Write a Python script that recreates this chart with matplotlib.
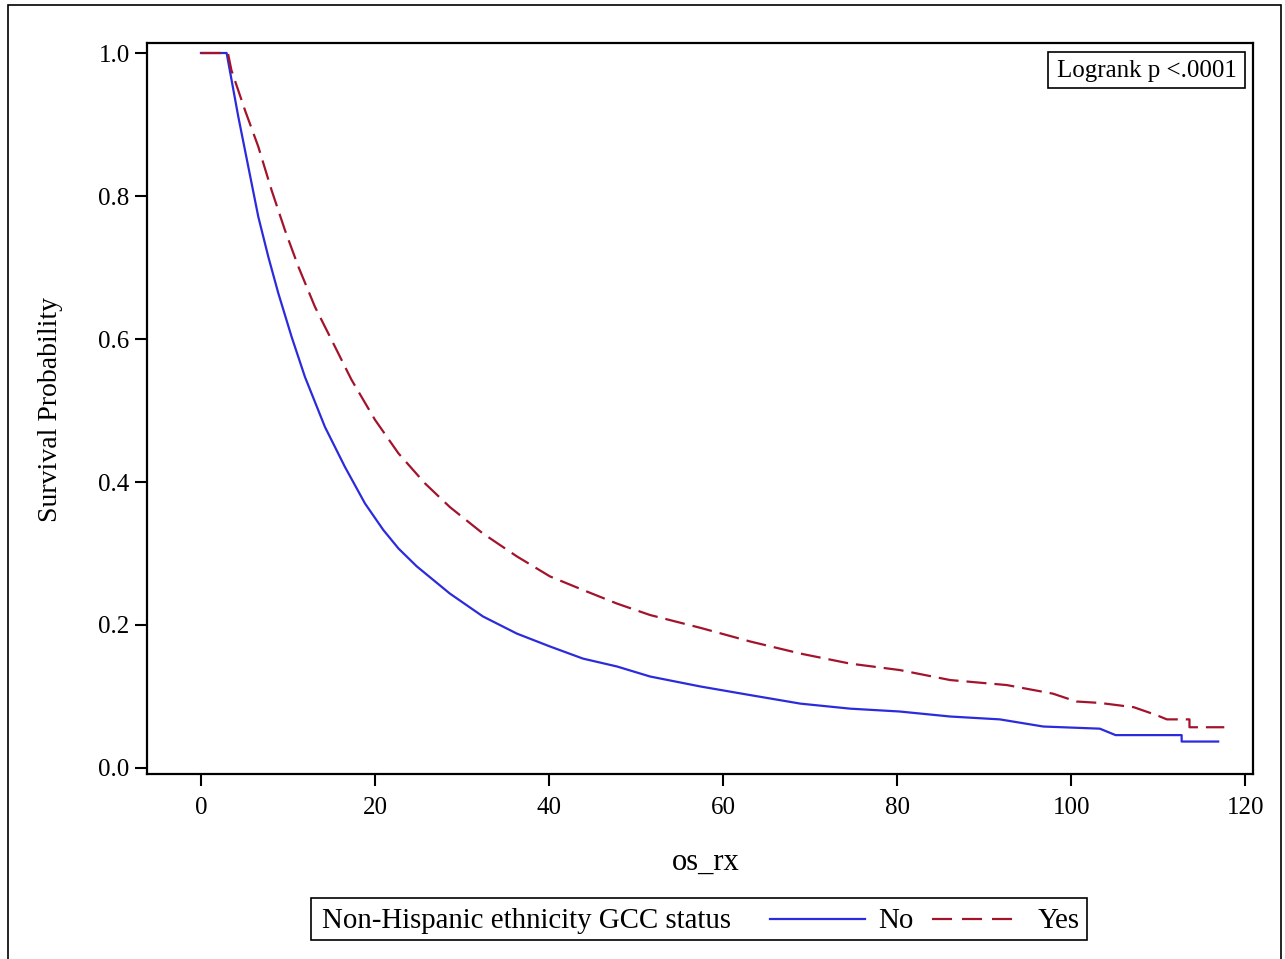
import matplotlib
matplotlib.use("Agg")
import matplotlib.pyplot as plt
from matplotlib.patches import Rectangle
from matplotlib.lines import Line2D

# ---- data ----
times_no = [0, 2.95, 4.29, 5.44, 6.59, 7.74, 8.89, 10.42, 11.95, 14.25, 16.55, 18.85,
            20.95, 22.7, 24.8, 28.6, 32.4, 36.3, 40.1, 43.9, 47.8, 51.6, 57.4, 63.1,
            68.9, 74.6, 80.3, 86.1, 91.8, 96.8, 103.3, 105.1, 112.7, 112.7, 116.9]
surv_no = [1.0, 1.0, 0.911, 0.841, 0.771, 0.715, 0.664, 0.603, 0.547, 0.477, 0.421, 0.370,
           0.333, 0.307, 0.282, 0.244, 0.212, 0.188, 0.170, 0.153, 0.142, 0.128, 0.114, 0.102,
           0.090, 0.083, 0.079, 0.072, 0.068, 0.058, 0.055, 0.046, 0.046, 0.037, 0.037]

times_yes = [0, 3.1, 3.5, 5.06, 6.59, 8.12, 9.66, 11.2, 13.1, 15.0, 17.3, 20.0, 22.7, 25.75,
             28.6, 32.4, 36.3, 40.1, 43.9, 47.8, 51.6, 57.4, 63.1, 68.9, 74.6, 80.3, 86.1,
             92.6, 97.9, 100.6, 103.3, 107.2, 109.8, 111.0, 113.6, 113.6, 117.6]
surv_yes = [1.0, 1.0, 0.976, 0.920, 0.869, 0.808, 0.752, 0.701, 0.645, 0.599, 0.543, 0.487,
            0.440, 0.398, 0.365, 0.328, 0.296, 0.268, 0.249, 0.230, 0.214, 0.196, 0.177,
            0.160, 0.146, 0.137, 0.123, 0.116, 0.104, 0.093, 0.091, 0.085, 0.074, 0.068,
            0.068, 0.057, 0.057]

x_ticks = [0, 20, 40, 60, 80, 100, 120]
y_ticks = [0.0, 0.2, 0.4, 0.6, 0.8, 1.0]
y_ticklabels = ["0.0", "0.2", "0.4", "0.6", "0.8", "1.0"]

legend_title = "Non-Hispanic ethnicity GCC status"
group_labels = ["No", "Yes"]
pvalue_text = "Logrank p <.0001"
xlabel = "os_rx"
ylabel = "Survival Probability"

# ---- style ----
plt.rcParams["font.family"] = ["Liberation Serif", "DejaVu Serif"]
BLUE = "#2B2BDD"
RED = "#A3132B"
W, H = 1285, 959

fig = plt.figure(figsize=(W / 100, H / 100), dpi=100)
fig.patch.set_facecolor("white")

def fx(px):
    return px / W

def fy(py):
    return 1 - py / H

ax = fig.add_axes([fx(147), fy(774), fx(1253) - fx(147), fy(43) - fy(774)])

ax.plot(times_no, surv_no, color=BLUE, lw=1.6, zorder=3)
ln_yes, = ax.plot(times_yes, surv_yes, color=RED, lw=1.6, zorder=4)
ln_yes.set_dashes((9, 3.6))

ax.set_xlim(-6.2, 120.9)
ax.set_ylim(-0.0084, 1.014)
ax.set_xticks(x_ticks)
ax.set_yticks(y_ticks)
ax.set_yticklabels(y_ticklabels)
ax.tick_params(axis="both", direction="out", length=8.5, width=1.5, labelsize=18,
               colors="black", pad=4)
ax.tick_params(axis="x", pad=8)
for s in ax.spines.values():
    s.set_linewidth(1.6)
    s.set_color("black")

ax.set_xlabel(xlabel, fontsize=22)
ax.set_ylabel(ylabel, fontsize=20)
ax.xaxis.set_label_coords((706 - 147) / 1106, (774 - 862) / 731)
ax.yaxis.set_label_coords((50 - 147) / 1106, (774 - 409) / 731)
ax.xaxis.label.set_va("center")
ax.yaxis.label.set_va("center")

# Logrank box
fig.patches.append(Rectangle((fx(1048), fy(88)), fx(1245) - fx(1048), fy(52) - fy(88),
                             transform=fig.transFigure, fill=False, ec="black", lw=1.2,
                             zorder=5))
fig.text(fx(1146.5), fy(71), pvalue_text, ha="center", va="center", fontsize=18)

# Outer border
fig.patches.append(Rectangle((fx(8), -0.02), fx(1281) - fx(8), fy(5) + 0.02,
                             transform=fig.transFigure, fill=False, ec="black", lw=1.2))

# Legend box
ly = 919
fig.patches.append(Rectangle((fx(311), fy(940)), fx(1087) - fx(311), fy(898) - fy(940),
                             transform=fig.transFigure, fill=False, ec="black", lw=1.2))
fig.text(fx(322), fy(ly + 2), legend_title, ha="left", va="center", fontsize=20.8)
fig.lines.append(Line2D([fx(770), fx(865)], [fy(ly), fy(ly)], transform=fig.transFigure,
                        color=BLUE, lw=1.6))
fig.text(fx(878), fy(ly + 2), group_labels[0], ha="left", va="center", fontsize=20.8)
leg_red = Line2D([fx(932), fx(1018)], [fy(ly), fy(ly)], transform=fig.transFigure,
                 color=RED, lw=1.6)
leg_red.set_dashes((9, 4.5))
fig.lines.append(leg_red)
fig.text(fx(1038), fy(ly + 2), group_labels[1], ha="left", va="center", fontsize=20.8)

fig.savefig("out.png", dpi=100)
